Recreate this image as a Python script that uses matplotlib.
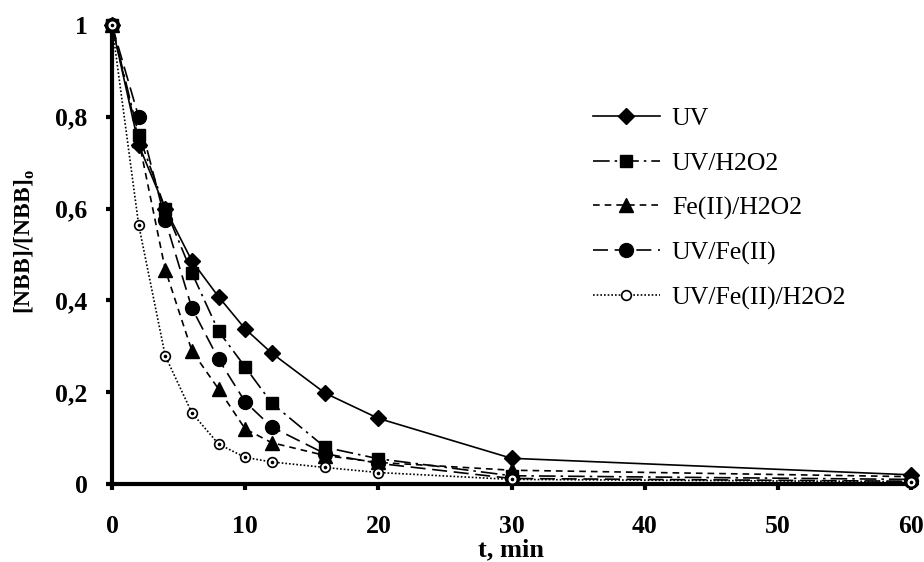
import matplotlib
matplotlib.use("Agg")
import matplotlib.pyplot as plt

t = [0, 2, 4, 6, 8, 10, 12, 16, 20, 30, 60]
uv = [1, 0.739, 0.600, 0.486, 0.408, 0.338, 0.285, 0.198, 0.143, 0.056, 0.020]
uv_h2o2 = [1, 0.760, 0.600, 0.460, 0.333, 0.255, 0.176, 0.080, 0.055, 0.018, 0.010]
fe_h2o2 = [1, 0.750, 0.467, 0.290, 0.207, 0.120, 0.090, 0.062, 0.047, 0.030, 0.016]
uv_fe = [1, 0.800, 0.575, 0.383, 0.272, 0.179, 0.124, 0.066, 0.045, 0.012, 0.006]
uv_fe_h2o2 = [1, 0.565, 0.279, 0.155, 0.087, 0.058, 0.048, 0.036, 0.025, 0.010, 0.005]
labels = ["UV", "UV/H2O2", "Fe(II)/H2O2", "UV/Fe(II)", "UV/Fe(II)/H2O2"]
xticks = [0, 10, 20, 30, 40, 50, 60]
yticks = [0, 0.2, 0.4, 0.6, 0.8, 1.0]
yticklabels = ["0", "0,2", "0,4", "0,6", "0,8", "1"]

plt.rcParams['font.family'] = ['Liberation Serif', 'DejaVu Serif']
fig = plt.figure(figsize=(9.24, 5.62), dpi=100)
ax = fig.add_axes([112/924, 78/562, (911-112)/924, (484-25)/562])

lw = 1.2
ax.plot(t, uv, color='black', lw=lw, ls='-', marker='D', ms=8.5, label=labels[0], clip_on=False, zorder=5)
ax.plot(t, uv_h2o2, color='black', lw=lw, ls=(0, (10, 3, 1.5, 3)), marker='s', ms=8.5, label=labels[1], clip_on=False, zorder=4)
ax.plot(t, fe_h2o2, color='black', lw=lw, ls=(0, (4, 3)), marker='^', ms=9.5, label=labels[2], clip_on=False, zorder=4)
ax.plot(t, uv_fe, color='black', lw=lw, ls=(0, (9, 4)), marker='o', ms=10, label=labels[3], clip_on=False, zorder=4)
ax.plot(t, uv_fe_h2o2, color='black', lw=lw, ls=(0, (1, 1.2)), marker='o', ms=7, mfc='white', mec='black', mew=1.2,
        label=labels[4], clip_on=False, zorder=6)
ax.plot(t, uv_fe_h2o2, ls='none', marker='o', ms=1.6, color='black', clip_on=False, zorder=7)

ax.set_xlim(0, 60)
ax.set_ylim(0, 1)
ax.set_xticks(xticks)
ax.set_yticks(yticks)
ax.set_yticklabels(yticklabels)
for lab in ax.get_xticklabels() + ax.get_yticklabels():
    lab.set_fontweight('bold')
    lab.set_fontsize(18.5)
ax.spines['top'].set_visible(False)
ax.spines['right'].set_visible(False)
for s in ['left', 'bottom']:
    ax.spines[s].set_linewidth(3)
ax.tick_params(direction='out', width=3, length=4.5)
ax.tick_params(axis='x', pad=18)
ax.tick_params(axis='y', pad=13)

ax.set_xlabel('t, min', fontsize=19, fontweight='bold', labelpad=0)
ax.set_ylabel(r'[NBB]/[NBB]$_\mathdefault{o}$', fontsize=17, fontweight='bold')
ax.yaxis.set_label_coords(-0.094, 0.529)

leg = ax.legend(loc='upper left', bbox_to_anchor=(0.602, 0.821), frameon=False, fontsize=18.5,
                borderaxespad=0, borderpad=0,
                handlelength=2.6, handletextpad=0.47, labelspacing=0.84)

fig.savefig('out.png', dpi=100)
